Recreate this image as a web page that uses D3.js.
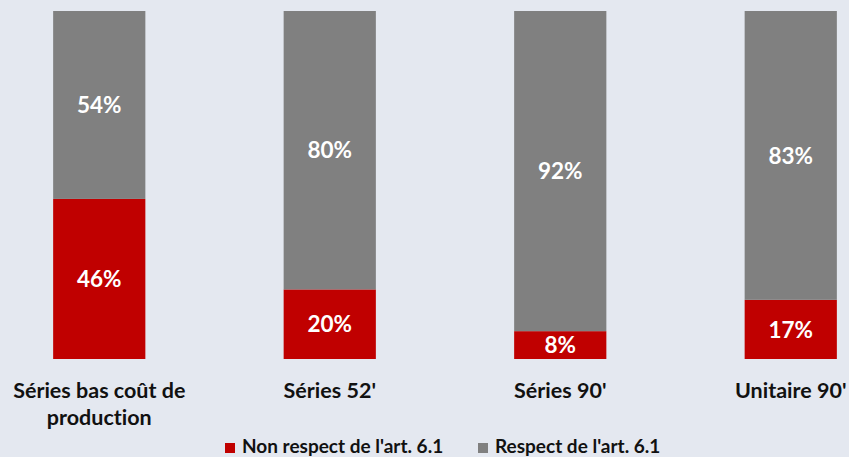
<!DOCTYPE html>
<html>
<head>
<meta charset="utf-8">
<script src="https://cdn.jsdelivr.net/npm/d3@7"></script>
<style>
  body { margin: 0; background: #e4e8f0; }
  svg { display: block; font-family: Lato, "Noto Sans", sans-serif; font-weight: bold; font-variant-ligatures: none; }
</style>
</head>
<body>
<div class="chart"></div>
<script>
const categories = ["Séries bas coût de production", "Séries 52'", "Séries 90'", "Unitaire 90'"];
const catLines = [["Séries bas coût de", "production"], ["Séries 52'"], ["Séries 90'"], ["Unitaire 90'"]];
const nonRespect = [46, 20, 8, 17];
const respect = [54, 80, 92, 83];
const seriesNames = ["Non respect de l'art. 6.1", "Respect de l'art. 6.1"];
const colors = ["#c00000", "#808080"];

const width = 849;
const height = 457;

const svg = d3.select(".chart")
	.append("svg")
		.attr("width", width)
		.attr("height", height);

svg.append("rect")
	.attr("width", width)
	.attr("height", height)
	.attr("fill", "#e4e8f0");

const x = d3.scaleBand()
	.domain(categories)
	.range([-16, 906])
	.paddingInner(0.6)
	.paddingOuter(0.3);

const y = d3.scaleLinear()
	.domain([0, 100])
	.range([359, 11]);

const rows = categories.map((c, i) => ({ cat: c, a: nonRespect[i], b: respect[i] }));
const stacked = d3.stack().keys(["a", "b"])(rows);

const layers = svg.append("g")
	.selectAll("g")
		.data(stacked).enter()
	.append("g")
		.attr("fill", (d, i) => colors[i]);

layers.selectAll("rect")
	.data((d) => d).enter()
	.append("rect")
		.attr("x", (d) => x(d.data.cat))
		.attr("width", x.bandwidth())
		.attr("y", (d) => y(d[1]))
		.attr("height", (d) => y(d[0]) - y(d[1]));

layers.selectAll("text")
	.data((d) => d).enter()
	.append("text")
		.attr("x", (d) => x(d.data.cat) + x.bandwidth() / 2)
		.attr("y", (d) => (y(d[0]) + y(d[1])) / 2)
		.attr("dy", "0.36em")
		.attr("text-anchor", "middle")
		.attr("fill", "#fff")
		.style("font-size", "22.5px")
		.text((d) => (d[1] - d[0]) + "%");

// category labels
const cats = svg.append("g")
	.selectAll("text")
		.data(categories).enter()
	.append("text")
		.attr("x", (d) => x(d) + x.bandwidth() / 2)
		.attr("y", 398)
		.attr("text-anchor", "middle")
		.attr("fill", "#111")
		.style("font-size", "21.5px");

cats.selectAll("tspan")
	.data((d, i) => catLines[i]).enter()
	.append("tspan")
		.attr("x", function () { return d3.select(this.parentNode).attr("x"); })
		.attr("dy", (d, i) => i === 0 ? 0 : 27)
		.text((d) => d);

// legend
const legendX = [225, 478];
const legend = svg.append("g")
	.selectAll("g")
		.data(seriesNames).enter()
	.append("g")
		.attr("transform", (d, i) => `translate(${legendX[i]}, 443)`);

legend.append("rect")
	.attr("width", 10)
	.attr("height", 10)
	.attr("fill", (d, i) => colors[i]);

legend.append("text")
	.attr("x", 17)
	.attr("y", 10)
	.attr("fill", "#111")
	.style("font-size", "19px")
	.text((d) => d);
</script>
</body>
</html>
